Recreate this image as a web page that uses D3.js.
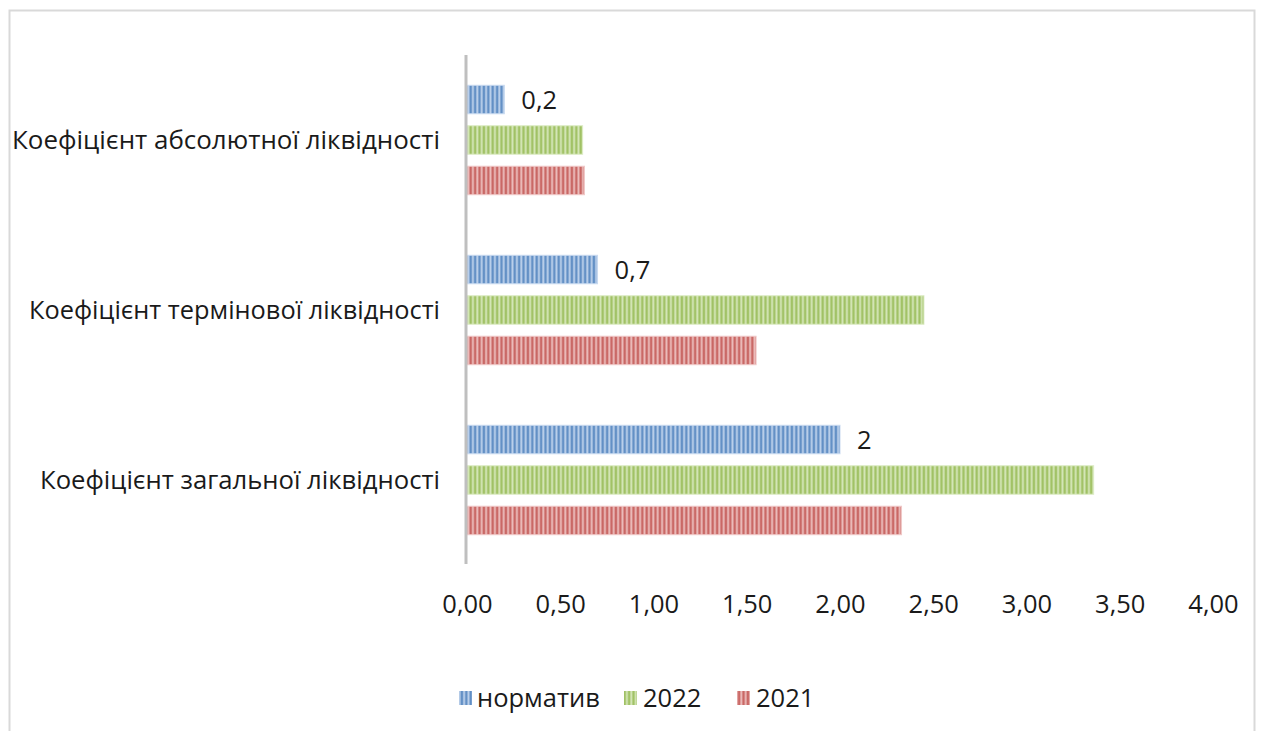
<!DOCTYPE html>
<html>
<head>
<meta charset="utf-8">
<script src="https://cdn.jsdelivr.net/npm/d3@7"></script>
<style>
  html, body { margin: 0; padding: 0; background: #fff; }
  svg { display: block; font-family: "Open Sans", "Liberation Sans", sans-serif; }
</style>
</head>
<body>
<svg id="chart" width="1262" height="731"></svg>
<script>
// Liquidity ratios, bottom-to-top as categories
const categories = [
  "Коефіцієнт загальної ліквідності",
  "Коефіцієнт термінової ліквідності",
  "Коефіцієнт абсолютної ліквідності"
];
const seriesNames = ["норматив", "2022", "2021"];
const normValues = [2, 0.7, 0.2];
const values2022 = [3.36, 2.45, 0.62];
const values2021 = [2.33, 1.55, 0.63];
const normLabels = ["2", "0,7", "0,2"];
const tickValues = [0, 0.5, 1, 1.5, 2, 2.5, 3, 3.5, 4];

const seriesValues = [normValues, values2022, values2021];
const colors = {
  "норматив": { dark: "#4a7ebb", light: "#c9daf0" },
  "2022": { dark: "#93b84f", light: "#dcebc4" },
  "2021": { dark: "#c0504d", light: "#f0c9c8" }
};
const FS = 25.5;       // ticks, legend, value labels
const FS_CAT = 26;     // category labels
const textColor = "#1a1a1a";

const svg = d3.select("#chart");

// outer chart frame
svg.append("rect")
  .attr("x", 9.5).attr("y", 10.5)
  .attr("width", 1245).attr("height", 740)
  .attr("fill", "#fff").attr("stroke", "#d9d9d9").attr("stroke-width", 2);

// striped fills
const defs = svg.append("defs");
seriesNames.forEach((s, i) => {
  const c = colors[s];
  const g = defs.append("linearGradient")
    .attr("id", "grad" + i)
    .attr("x1", "0").attr("x2", "1").attr("y1", "0").attr("y2", "0");
  g.append("stop").attr("offset", "0%").attr("stop-color", c.dark);
  g.append("stop").attr("offset", "45%").attr("stop-color", c.light);
  g.append("stop").attr("offset", "100%").attr("stop-color", c.dark);
  const p = defs.append("pattern")
    .attr("id", "stripe" + i)
    .attr("patternUnits", "userSpaceOnUse")
    .attr("width", 4.4).attr("height", 10);
  p.append("rect").attr("width", 4.4).attr("height", 10).attr("fill", "url(#grad" + i + ")");
});

const x = d3.scaleLinear().domain([0, 4]).range([467, 1213]);
const y = d3.scaleBand().domain(categories).range([565, 55]);
const yInner = d3.scaleBand().domain(seriesNames)
  .range([0, y.bandwidth()]).paddingInner(0.296).paddingOuter(0.748);

// bars
categories.forEach((cat, ci) => {
  const g = svg.append("g").attr("transform", `translate(0,${y(cat)})`);
  seriesNames.forEach((s, si) => {
    const v = seriesValues[si][ci];
    g.append("rect")
      .attr("x", x(0))
      .attr("y", yInner(s))
      .attr("width", x(v) - x(0))
      .attr("height", yInner.bandwidth())
      .attr("fill", `url(#stripe${si})`)
      .attr("stroke", colors[s].light)
      .attr("stroke-width", 1);
  });
  // value label on the norm bar
  svg.append("text")
    .attr("x", x(normValues[ci]) + 17)
    .attr("y", y(cat) + yInner("норматив") + yInner.bandwidth() / 2)
    .attr("dy", "0.36em")
    .attr("font-size", FS)
    .attr("fill", textColor)
    .text(normLabels[ci]);
});

// vertical axis line
svg.append("line")
  .attr("x1", x(0) - 1).attr("x2", x(0) - 1)
  .attr("y1", 55).attr("y2", 564)
  .attr("stroke", "#bfbfbf").attr("stroke-width", 3);

// category labels, word gaps widened to the target width
const labelWidths = [400, 411, 428];
categories.forEach((cat, ci) => {
  const t = svg.append("text")
    .attr("x", 440)
    .attr("y", y(cat) + y.bandwidth() / 2)
    .attr("dy", "0.36em")
    .attr("text-anchor", "end")
    .attr("font-size", FS_CAT)
    .attr("fill", textColor)
    .text(cat);
  const natural = t.node().getComputedTextLength();
  const gaps = cat.split(" ").length - 1;
  const extra = (labelWidths[ci] - natural) / gaps;
  if (extra > 0) t.attr("word-spacing", extra);
  else t.attr("textLength", labelWidths[ci]).attr("lengthAdjust", "spacingAndGlyphs");
});

// x axis tick labels
const fmt = v => v.toFixed(2).replace(".", ",");
const xAxis = d3.axisBottom(x).tickValues(tickValues).tickFormat(fmt).tickSize(0).tickPadding(0);
const ax = svg.append("g").attr("transform", "translate(0,597)").call(xAxis);
ax.select(".domain").remove();
ax.selectAll("text")
  .attr("font-size", FS)
  .attr("font-family", "\"Open Sans\", \"Liberation Sans\", sans-serif")
  .attr("fill", textColor)
  .attr("dy", "0.36em")
  .attr("y", 7);

// legend
const legendItems = [
  { name: "норматив", sx: 459, tx: 477 },
  { name: "2022", sx: 624, tx: 643 },
  { name: "2021", sx: 737, tx: 756 }
];
legendItems.forEach(item => {
  const si = seriesNames.indexOf(item.name);
  svg.append("rect")
    .attr("x", item.sx).attr("y", 691)
    .attr("width", 13).attr("height", 14)
    .attr("fill", `url(#stripe${si})`);
  svg.append("text")
    .attr("x", item.tx).attr("y", 698)
    .attr("dy", "0.36em")
    .attr("font-size", FS)
    .attr("fill", textColor)
    .text(item.name);
});
</script>
</body>
</html>
